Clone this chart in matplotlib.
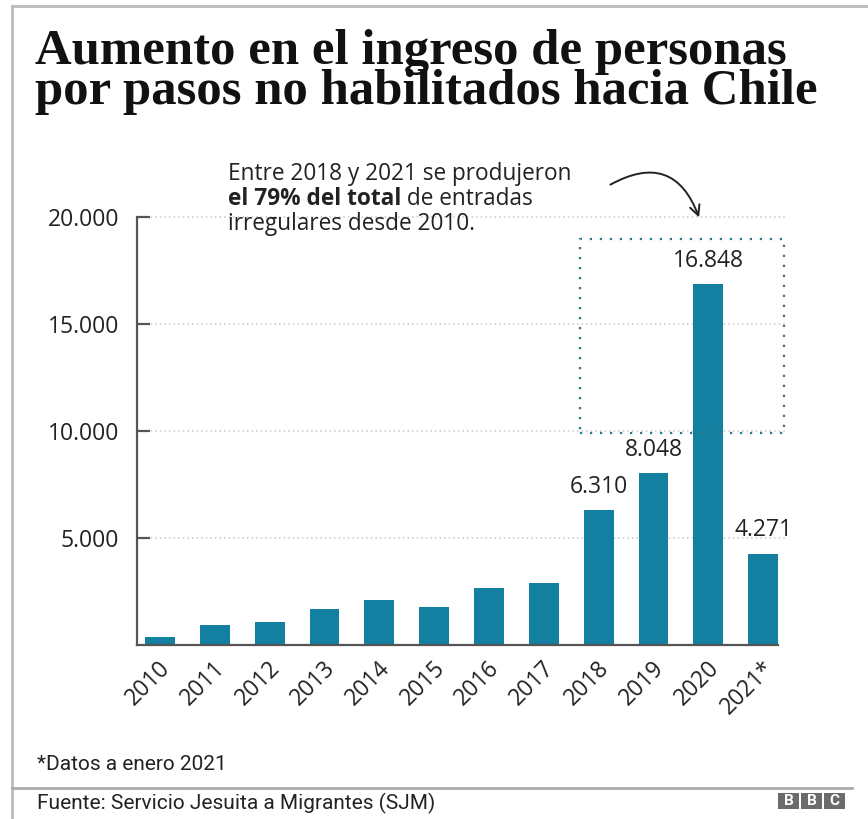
import matplotlib.pyplot as plt
import matplotlib.transforms as mtrans
from matplotlib.patches import Rectangle
from matplotlib.lines import Line2D

# data
years = ['2010', '2011', '2012', '2013', '2014', '2015',
         '2016', '2017', '2018', '2019', '2020', '2021*']
entries = [390, 920, 1090, 1660, 2110, 1770, 2660, 2910, 6310, 8048, 16848, 4271]
labelled = {8: '6.310', 9: '8.048', 10: '16.848', 11: '4.271'}
yticks = [5000, 10000, 15000, 20000]
ytick_labels = ['5.000', '10.000', '15.000', '20.000']

title = 'Aumento en el ingreso de personas\npor pasos no habilitados hacia Chile'
note = '*Datos a enero 2021'
source = 'Fuente: Servicio Jesuita a Migrantes (SJM)'

W, H = 868, 819
BAR = '#1380a1'
INK = '#222222'

plt.rcParams['font.family'] = ['Open Sans', 'DejaVu Sans']
fig = plt.figure(figsize=(W / 100, H / 100), dpi=100)
fig.patch.set_facecolor('white')


def fx(px):
    return px / W


def fy(py):
    return 1 - py / H


ax = fig.add_axes([fx(137), fy(645), fx(778) - fx(137), fy(217) - fy(645)])
x = list(range(len(years)))
ax.bar(x, entries, width=0.545, color=BAR, zorder=2)
ax.set_xlim(-0.42, 11.27)
ax.set_ylim(0, 20000)

# dotted gridlines run a little past the last bar
ax.hlines(yticks, -0.42, 11.42, colors='#c8c8c8', linestyles=(0, (1, 2)),
          lw=1.1, zorder=0, clip_on=False)

for s in ['top', 'right']:
    ax.spines[s].set_visible(False)
for s in ['left', 'bottom']:
    ax.spines[s].set_color('#555555')
    ax.spines[s].set_linewidth(1.6)
    ax.spines[s].set_zorder(3)

ax.set_yticks(yticks)
ax.set_yticklabels(ytick_labels, fontsize=16.5, color=INK)
ax.tick_params(axis='y', direction='in', length=9, width=1.6,
               color='#555555', pad=13)
ax.set_xticks(x)
ax.set_xticklabels(years, rotation=45, ha='right', va='center',
                   rotation_mode='anchor', fontsize=16.5, color=INK)
ax.tick_params(axis='x', length=0, pad=14)
off = mtrans.ScaledTranslation(7 / 100, 0, fig.dpi_scale_trans)
for lab in ax.get_xticklabels():
    lab.set_transform(lab.get_transform() + off)

for i, txt in labelled.items():
    ax.annotate(txt, (i, entries[i]), xytext=(0, 8), textcoords='offset points',
                ha='center', va='bottom', fontsize=16.5, color=INK)

# dotted box around 2018-2021
ax.add_patch(Rectangle((7.66, 9900), 3.72, 9050, fill=False,
                       edgecolor='#2f7590', lw=1.6, linestyle=(0, (1, 3.5)),
                       clip_on=False, zorder=4))

# annotation text
fig.text(fx(228), fy(180), 'Entre 2018 y 2021 se produjeron', fontsize=16.3,
         color=INK, va='baseline')
b = fig.text(fx(228), fy(205), 'el 79% del total', fontsize=16.3,
             color=INK, va='baseline', fontweight='bold')
fig.canvas.draw()
ax.annotate(' de entradas', xy=(1, 0), xycoords=b, fontsize=16.3,
            color=INK, va='bottom', ha='left')
fig.text(fx(228), fy(230), 'irregulares desde 2010.', fontsize=16.3,
         color=INK, va='baseline')

ax.annotate('', xy=(700, H - 220), xycoords='figure pixels',
            xytext=(608, H - 186), textcoords='figure pixels',
            arrowprops=dict(arrowstyle='->', color=INK, lw=1.4,
                            connectionstyle='arc3,rad=-0.6',
                            mutation_scale=18))

# title (baseline of the last line)
fig.text(fx(35), fy(104), title, fontsize=36.5, family='Liberation Serif',
         fontweight='bold', color='#111111', va='baseline', linespacing=0.84)

# footer
fig.text(fx(37), fy(765), note, fontsize=15, family='Roboto',
         color=INK, va='center')
fig.text(fx(37), fy(803), source, fontsize=15, family='Roboto',
         color=INK, va='center')

# frame lines
fig.add_artist(Line2D([fx(12), fx(12)], [0, fy(6)], color='#bbbbbb', lw=2))
fig.add_artist(Line2D([fx(12), 1], [fy(6), fy(6)], color='#bbbbbb', lw=2))
fig.add_artist(Line2D([fx(12), fx(852)], [fy(788), fy(788)], color='#aaaaaa', lw=2))

# BBC blocks
for k, letter in enumerate('BBC'):
    x0 = 778 + k * 23
    fig.add_artist(Rectangle((fx(x0), fy(809)), fx(21), fy(793) - fy(809),
                             facecolor='#6b6b6b', edgecolor='none'))
    fig.text(fx(x0 + 10.5), fy(801), letter, fontsize=11, fontweight='bold',
             color='white', ha='center', va='center', family='Roboto')

fig.savefig('out.png', dpi=100)
